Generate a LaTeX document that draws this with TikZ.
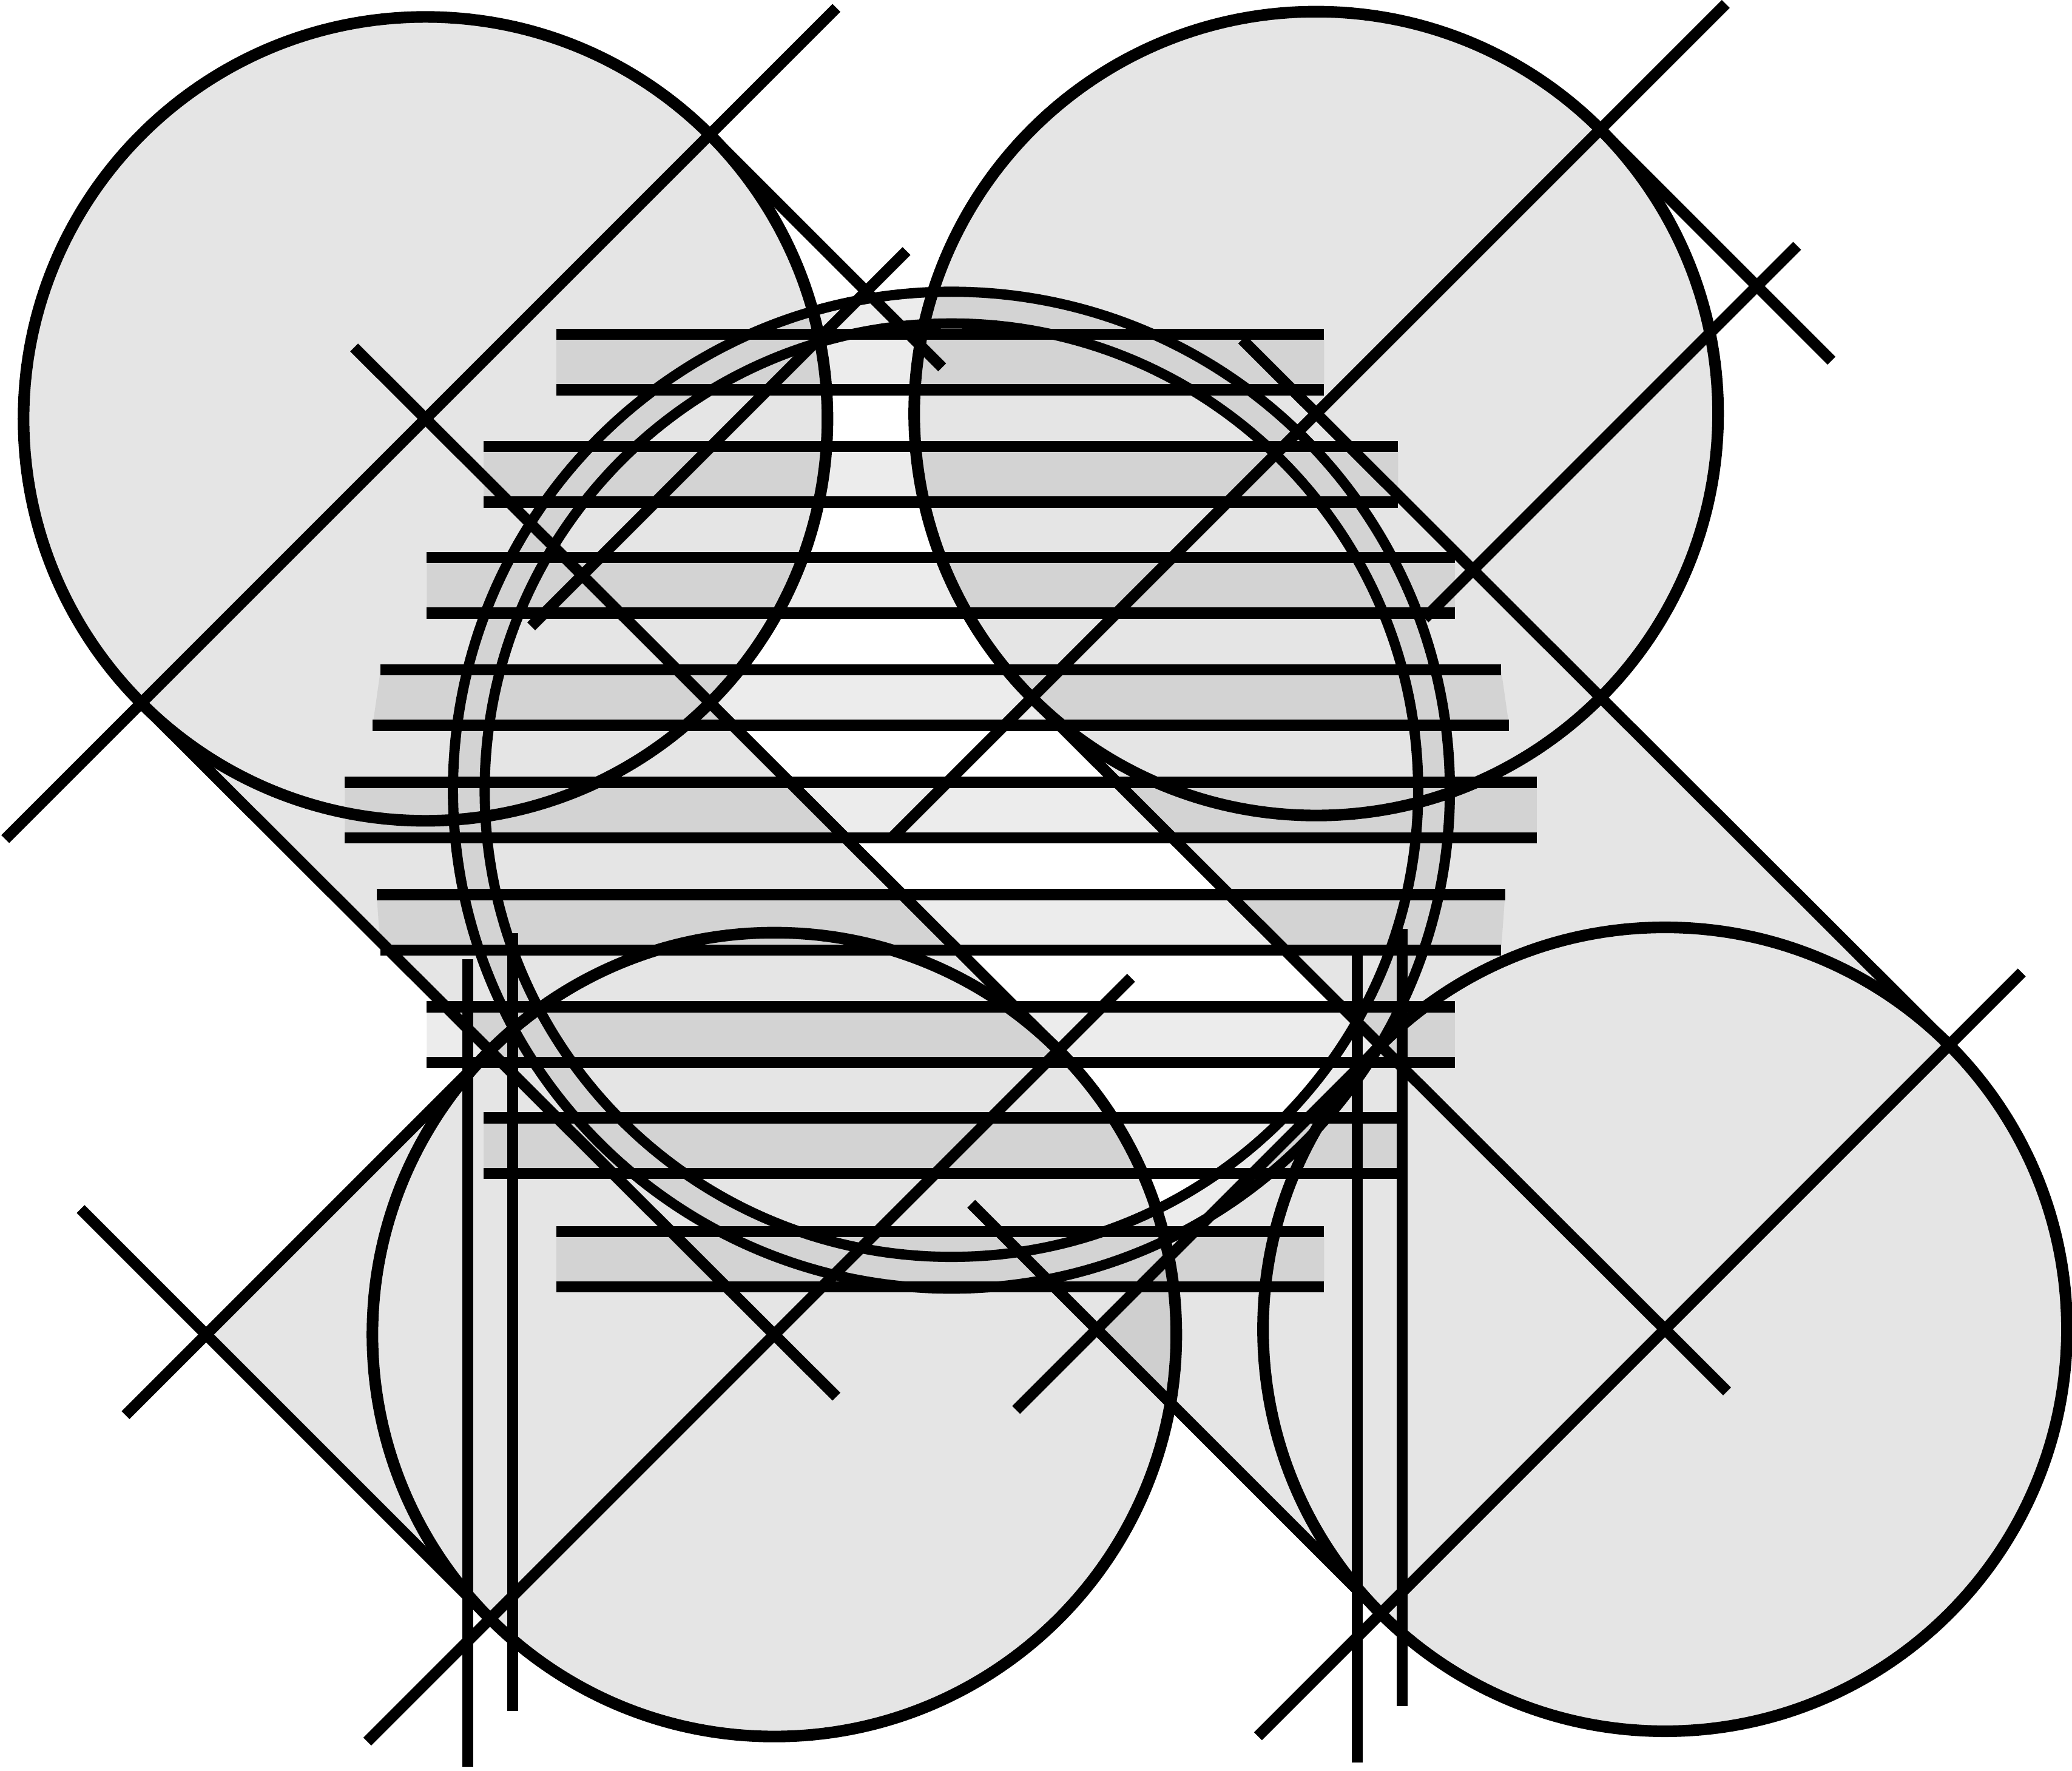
\documentclass[tikz,border=0pt]{standalone}
\usepackage{tikz}
\usetikzlibrary{calc}

\definecolor{regiongray}{HTML}{E5E5E5}
\definecolor{overlapgray}{HTML}{CFCFCF}

\begin{document}
\begin{tikzpicture}[
        x=0.01cm, y=-0.01cm,
        disc/.style={draw=black, line width=2.5pt},
        ringline/.style={draw=black, line width=2.2pt},
        guide/.style={draw=black, line width=2.4pt},
        region/.style={fill=regiongray},
        band/.style={fill=black}
    ]
        \useasboundingbox (0,0) rectangle (1568,1340);

        % --- CENTRES AND CORNERS ---
        \coordinate (tl) at (322,317);
        \coordinate (tr) at (996,313);
        \coordinate (bl) at (586,1010);
        \coordinate (br) at (1260,1006);
        \coordinate (ring) at (720,598);
        \coordinate (p1) at (107,532);
        \coordinate (p2) at (371,795);
        \coordinate (p3) at (371,1225);
        \coordinate (p4) at (801,795);
        \coordinate (kl) at (156,1010);
        \coordinate (q1) at (781,528);
        \coordinate (q2) at (1045,791);
        \coordinate (q3) at (1045,1221);
        \coordinate (q4) at (1475,791);
        \coordinate (kr) at (830,1006);

        % --- REGIONS ---
        \fill[region] (tl) circle[radius=3.04cm];
        \fill[region] (bl) circle[radius=3.04cm];
        \fill[region] (tl) -- (p1) -- (p2) -- (kl) -- (p3) -- (bl) -- (p4) -- cycle;
        \fill[region] (tr) circle[radius=3.04cm];
        \fill[region] (br) circle[radius=3.04cm];
        \fill[region] (tr) -- (q1) -- (q2) -- (kr) -- (q3) -- (br) -- (q4) -- cycle;
        \begin{scope}
            \clip (bl) circle[radius=3.04cm];
            \fill[overlapgray] (q2) -- (kr) -- (q3) -- (br) -- cycle;
        \end{scope}

        % --- BANDS ---
        \begin{scope}[transparency group, opacity=0.075]
            \fill[band, even odd rule] (ring) circle[radius=3.77cm] (ring) circle[radius=3.53cm];
            \fill[band] (421,253) -- (1002,253) -- (1002,295) -- (421,295) -- cycle;
            \fill[band] (366,338) -- (1058,338) -- (1058,380) -- (366,380) -- cycle;
            \fill[band] (323,422) -- (1101,422) -- (1101,464) -- (323,464) -- cycle;
            \fill[band] (288,507) -- (1136,507) -- (1142,549) -- (282,549) -- cycle;
            \fill[band] (261,592) -- (1163,592) -- (1163,634) -- (261,634) -- cycle;
            \fill[band] (285,677) -- (1139,677) -- (1136,719) -- (288,719) -- cycle;
            \fill[band] (323,762) -- (1101,762) -- (1101,804) -- (323,804) -- cycle;
            \fill[band] (366,846) -- (1058,846) -- (1058,888) -- (366,888) -- cycle;
            \fill[band] (421,932) -- (1002,932) -- (1002,974) -- (421,974) -- cycle;
        \end{scope}

        % --- CIRCLES ---
        \draw[disc] (tl) circle[radius=3.04cm];
        \draw[disc] (tr) circle[radius=3.04cm];
        \draw[disc] (bl) circle[radius=3.04cm];
        \draw[disc] (br) circle[radius=3.04cm];
        \draw[ringline] (ring) circle[radius=3.77cm];
        \draw[ringline] (ring) circle[radius=3.53cm];

        % --- DIAGONALS ---
        \draw[guide] (4,635) -- (633,6);
        \draw[guide] (402,474) -- (686,190);
        \draw[guide] (674,635) -- (1306,3);
        \draw[guide] (1078,468) -- (1360,186);
        \draw[guide] (95,1071) -- (p2);
        \draw[guide] (278,1318) -- (856,740);
        \draw[guide] (769,1067) -- (q2);
        \draw[guide] (952,1314) -- (1530,736);
        \draw[guide] (537,102) -- (713,278);
        \draw[guide] (1211,98) -- (1386,273);
        \draw[guide] (268,263) -- (p4);
        \draw[guide] (940,257) -- (q4);
        \draw[guide] (p1) -- (633,1057);
        \draw[guide] (q1) -- (1307,1053);
        \draw[guide] (61,915) -- (p3);
        \draw[guide] (735,911) -- (q3);

        % --- SCAN LINES ---
        \draw[guide] (421,253) -- (1002,253);
        \draw[guide] (421,295) -- (1002,295);
        \draw[guide] (366,338) -- (1058,338);
        \draw[guide] (366,380) -- (1058,380);
        \draw[guide] (323,422) -- (1101,422);
        \draw[guide] (323,464) -- (1101,464);
        \draw[guide] (288,507) -- (1136,507);
        \draw[guide] (282,549) -- (1142,549);
        \draw[guide] (261,592) -- (1163,592);
        \draw[guide] (261,634) -- (1163,634);
        \draw[guide] (285,677) -- (1139,677);
        \draw[guide] (288,719) -- (1136,719);
        \draw[guide] (323,762) -- (1101,762);
        \draw[guide] (323,804) -- (1101,804);
        \draw[guide] (366,846) -- (1058,846);
        \draw[guide] (366,888) -- (1058,888);
        \draw[guide] (421,932) -- (1002,932);
        \draw[guide] (421,974) -- (1002,974);

        % --- UPRIGHTS ---
        \draw[guide] (354,726) -- (354,1337);
        \draw[guide] (388,706) -- (388,1295);
        \draw[guide] (1027,722) -- (1027,1334);
        \draw[guide] (1061,703) -- (1061,1291);
\end{tikzpicture}
\end{document}
